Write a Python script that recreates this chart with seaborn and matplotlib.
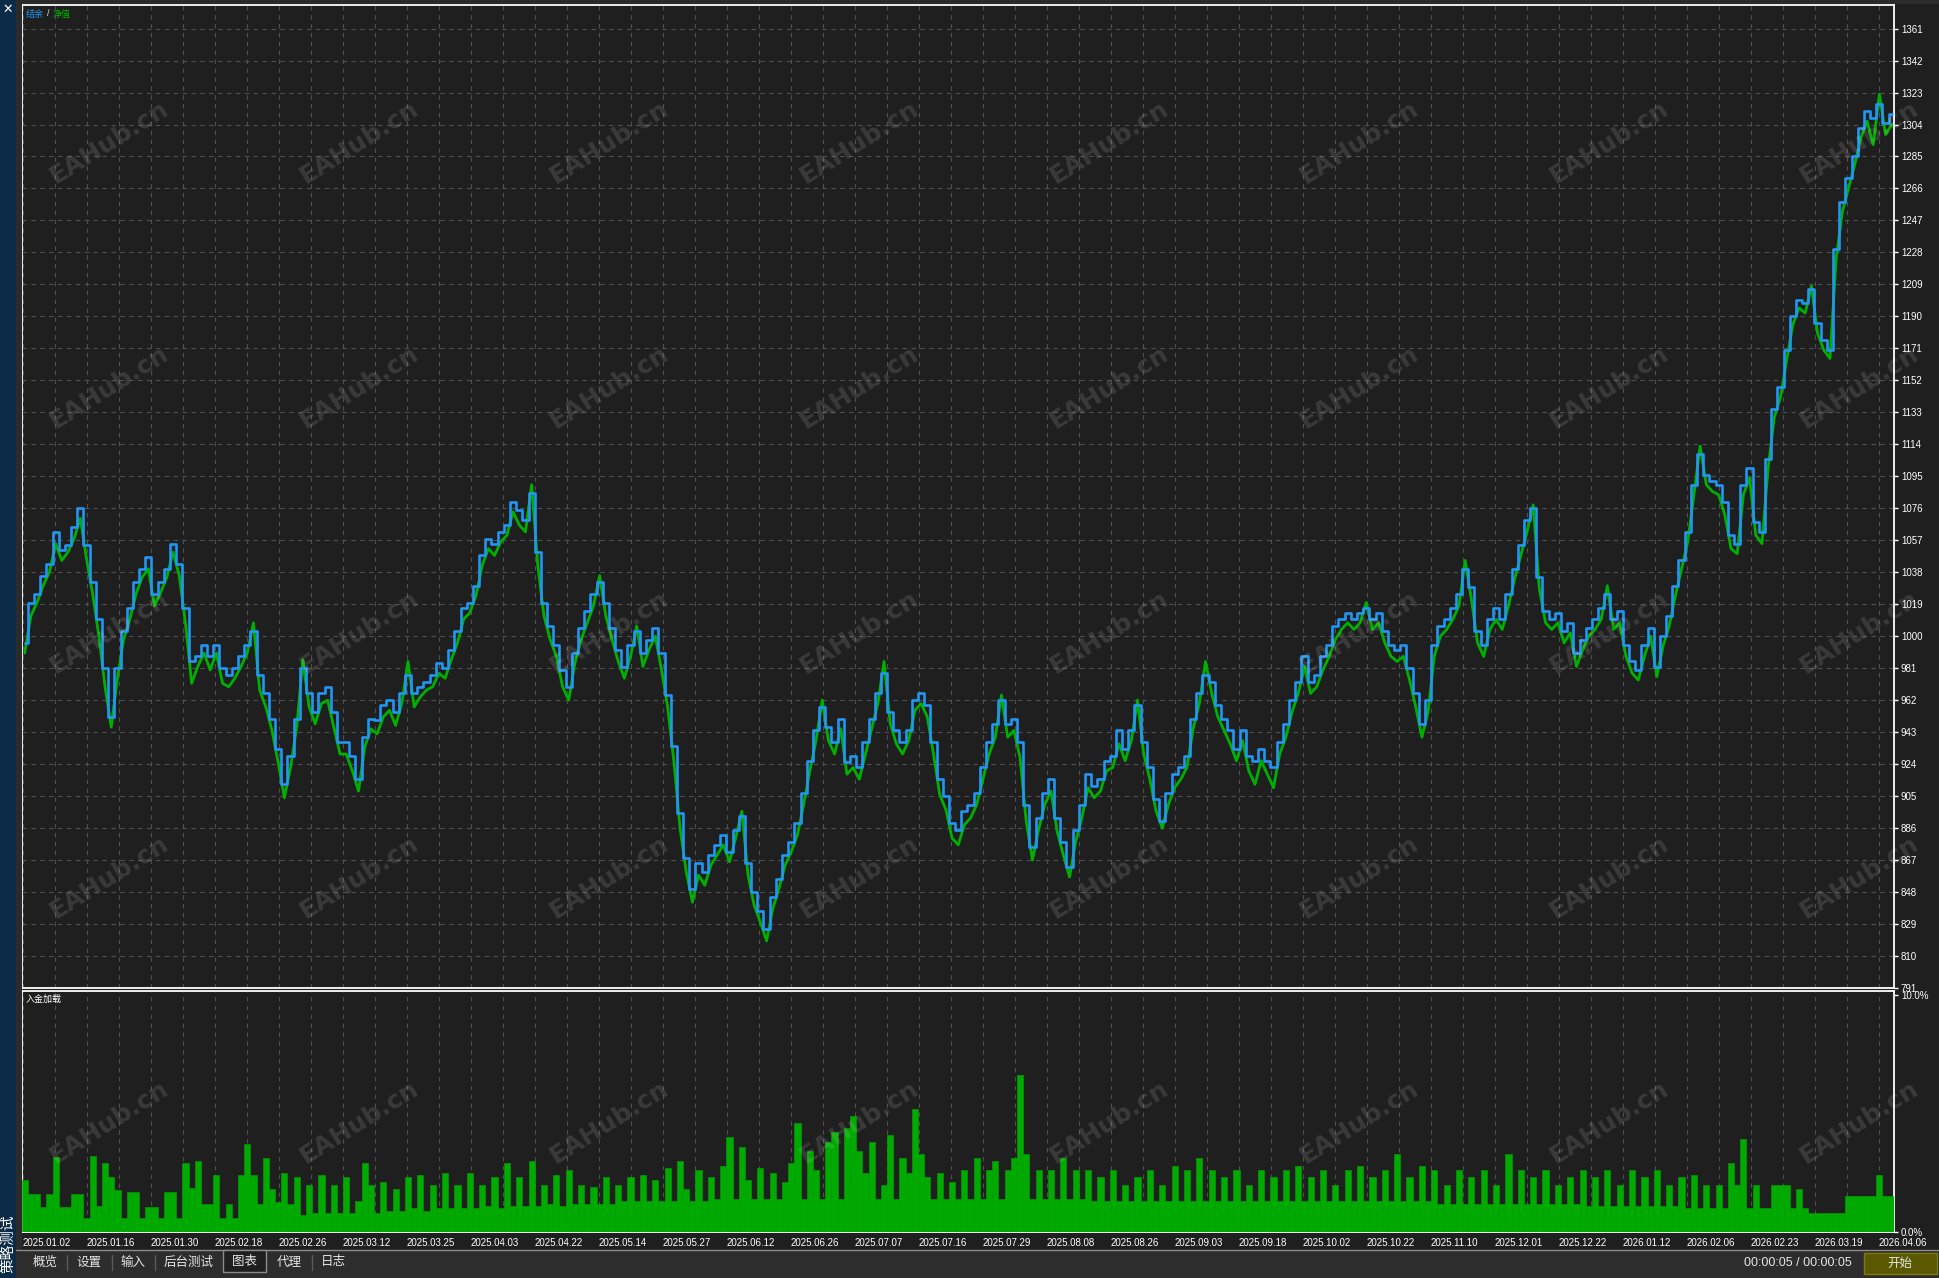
import numpy as np
import matplotlib
matplotlib.use("Agg")
import matplotlib.pyplot as plt
import seaborn as sns
from matplotlib.patches import Rectangle
from matplotlib.lines import Line2D

# ---------------- data ----------------
balance = [
    996, 1020, 1025, 1036, 1043, 1062, 1051, 1054, 1065, 1076,
    1054, 1032, 1010, 981, 952, 981, 1003, 1017, 1032, 1040,
    1047, 1025, 1032, 1040, 1055, 1043, 1017, 985, 988, 995,
    988, 995, 981, 977, 981, 988, 995, 1003, 977, 966,
    951, 933, 912, 929, 951, 981, 966, 955, 966, 970,
    955, 937, 937, 929, 915, 940, 951, 950, 959, 962,
    955, 966, 977, 966, 970, 973, 977, 984, 981, 992,
    1003, 1017, 1020, 1030, 1048, 1058, 1055, 1062, 1066, 1080,
    1075, 1069, 1085, 1050, 1020, 1006, 995, 980, 970, 990,
    1005, 1015, 1025, 1032, 1020, 1005, 992, 982, 995, 1003,
    990, 998, 1005, 990, 965, 935, 895, 868, 850, 865,
    860, 870, 876, 882, 872, 885, 893, 865, 848, 837,
    826, 845, 856, 870, 878, 889, 907, 926, 944, 958,
    946, 937, 951, 925, 929, 922, 937, 951, 966, 978,
    955, 944, 937, 944, 962, 966, 959, 937, 915, 905,
    889, 885, 896, 900, 907, 922, 937, 948, 962, 948,
    951, 937, 900, 875, 892, 907, 915, 892, 878, 863,
    885, 900, 918, 911, 915, 926, 929, 944, 933, 944,
    959, 937, 922, 903, 890, 907, 918, 922, 929, 951,
    966, 977, 973, 959, 951, 944, 933, 944, 929, 926,
    933, 926, 922, 937, 948, 962, 973, 988, 973, 977,
    988, 995, 1006, 1010, 1014, 1010, 1014, 1017, 1010, 1014,
    1003, 995, 992, 995, 981, 966, 948, 962, 995, 1006,
    1010, 1017, 1025, 1040, 1029, 1003, 995, 1010, 1017, 1010,
    1025, 1040, 1054, 1069, 1076, 1035, 1015, 1010, 1014, 1003,
    1008, 990, 998, 1005, 1010, 1017, 1025, 1010, 1015, 995,
    985, 980, 995, 1005, 982, 1000, 1012, 1030, 1045, 1062,
    1090, 1108, 1096, 1092, 1090, 1080, 1060, 1055, 1090, 1100,
    1068, 1062, 1105, 1135, 1148, 1170, 1190, 1200, 1198, 1206,
    1186, 1176, 1170, 1230, 1258, 1272, 1285, 1302, 1312, 1308,
    1316, 1305, 1310,
]

equity = [
    990, 1012, 1020, 1030, 1038, 1055, 1045, 1050, 1058, 1070,
    1046, 1025, 1000, 970, 946, 975, 998, 1010, 1025, 1035,
    1040, 1018, 1026, 1035, 1050, 1036, 1008, 972, 982, 990,
    980, 990, 972, 970, 975, 982, 990, 1008, 968, 958,
    944, 925, 904, 922, 946, 986, 958, 948, 960, 962,
    946, 930, 930, 920, 908, 934, 945, 942, 952, 956,
    947, 960, 985, 958, 964, 968, 970, 978, 975, 986,
    996, 1010, 1014, 1024, 1042, 1052, 1048, 1056, 1060, 1074,
    1066, 1062, 1090, 1042, 1012, 998, 988, 970, 962, 984,
    998, 1008, 1018, 1036, 1012, 998, 985, 975, 988, 1006,
    982, 992, 1000, 980, 958, 926, 886, 860, 842, 858,
    852, 864, 870, 876, 866, 880, 896, 858, 840, 830,
    819, 838, 850, 864, 872, 882, 900, 920, 938, 962,
    938, 930, 945, 918, 922, 915, 930, 945, 960, 985,
    948, 936, 930, 938, 956, 960, 952, 930, 906, 897,
    880, 876, 888, 892, 900, 915, 930, 940, 965, 940,
    944, 928, 890, 867, 885, 900, 908, 884, 870, 857,
    878, 892, 910, 904, 908, 920, 922, 936, 926, 938,
    962, 930, 915, 896, 886, 900, 910, 915, 922, 945,
    960, 985, 966, 952, 944, 936, 926, 938, 920, 912,
    926, 918, 910, 930, 940, 955, 966, 982, 966, 970,
    980, 988, 998, 1004, 1008, 1004, 1008, 1020, 1004, 1008,
    996, 988, 985, 988, 974, 958, 940, 955, 988, 1000,
    1004, 1010, 1018, 1045, 1022, 996, 988, 1004, 1010, 1004,
    1018, 1034, 1048, 1062, 1078, 1028, 1008, 1004, 1008, 996,
    1002, 982, 992, 1000, 1004, 1010, 1030, 1004, 1008, 988,
    978, 974, 988, 1000, 976, 994, 1006, 1024, 1040, 1056,
    1084, 1113, 1090, 1086, 1084, 1072, 1052, 1049, 1084, 1094,
    1060, 1055, 1100, 1130, 1142, 1164, 1185, 1195, 1192, 1208,
    1180, 1170, 1165, 1224, 1252, 1266, 1280, 1296, 1306, 1292,
    1322, 1298, 1304,
]

deposit_load = [
    2.2, 1.6, 1.6, 1.05, 1.6, 3.15, 1.05, 1.05, 1.6, 1.6,
    0.6, 3.2, 1.1, 2.9, 2.3, 1.75, 0.6, 1.7, 1.7, 0.6,
    1.05, 1.05, 0.6, 1.7, 1.7, 0.6, 2.9, 1.85, 3.0, 1.2,
    1.2, 2.4, 0.6, 1.2, 0.6, 2.4, 3.7, 2.4, 1.2, 3.1,
    1.8, 1.25, 2.5, 1.2, 2.3, 0.7, 2.0, 0.8, 2.4, 0.8,
    2.0, 0.8, 2.3, 0.8, 1.3, 2.9, 2.0, 0.8, 2.1, 0.9,
    1.8, 0.9, 2.3, 1.0, 2.4, 0.9, 2.0, 1.0, 2.5, 1.0,
    2.0, 1.0, 2.5, 1.0, 2.0, 1.1, 2.3, 1.0, 2.9, 1.1,
    2.3, 1.1, 3.0, 1.1, 2.0, 1.2, 2.4, 1.1, 2.6, 1.2,
    2.0, 1.2, 1.9, 1.2, 2.3, 1.2, 2.0, 1.3, 2.3, 1.3,
    2.4, 1.3, 2.2, 1.3, 2.7, 1.3, 3.0, 1.8, 1.3, 2.6,
    1.3, 2.3, 1.4, 2.8, 4.0, 1.4, 3.6, 2.2, 1.4, 2.7,
    1.4, 2.5, 1.4, 2.1, 2.9, 4.6, 1.4, 3.4, 2.6, 1.4,
    3.8, 4.2, 1.4, 4.4, 4.9, 3.4, 2.5, 3.8, 1.4, 2.0,
    4.1, 1.4, 3.1, 2.5, 5.2, 3.3, 2.3, 1.4, 2.5, 1.4,
    2.1, 1.4, 2.6, 1.4, 3.1, 1.4, 2.6, 3.0, 1.4, 2.6,
    3.1, 6.6, 3.3, 1.4, 2.6, 1.4, 2.6, 1.4, 3.1, 1.4,
    2.6, 1.4, 2.6, 1.3, 2.3, 1.3, 2.6, 1.3, 2.0, 1.3,
    2.3, 1.3, 2.6, 1.3, 2.0, 1.3, 2.8, 1.3, 2.6, 1.3,
    3.1, 1.3, 2.6, 1.3, 2.3, 1.3, 2.6, 1.3, 2.0, 1.3,
    2.6, 1.3, 2.3, 1.3, 2.6, 1.3, 2.8, 1.3, 2.3, 1.3,
    2.6, 1.3, 2.0, 1.3, 2.6, 1.3, 2.8, 1.3, 2.3, 1.3,
    2.6, 1.3, 3.3, 1.3, 2.3, 1.3, 2.8, 1.3, 2.6, 1.2,
    2.0, 1.2, 2.6, 1.2, 2.3, 1.2, 2.6, 1.2, 2.0, 1.2,
    3.3, 1.2, 2.6, 1.2, 2.3, 1.2, 2.6, 1.2, 2.0, 1.2,
    2.3, 1.2, 2.6, 1.1, 2.3, 1.1, 2.6, 1.1, 2.0, 1.1,
    2.6, 1.1, 2.3, 1.1, 2.6, 1.1, 2.0, 1.1, 2.3, 1.0,
    2.4, 1.0, 2.0, 1.0, 2.0, 1.0, 2.9, 2.0, 3.9, 1.0,
    2.0, 1.0, 1.0, 2.0, 2.0, 2.0, 1.0, 1.8, 1.0, 0.8,
    0.8, 0.8, 0.8, 0.8, 0.8, 1.5, 1.5, 1.5, 1.5, 1.5,
    2.4, 1.5, 1.5,
]

price_ticks = list(range(791, 1362, 19))
load_ticks = [0, 10]
load_tick_labels = ["0.0%", "10.0%"]
date_labels = [
    "2025.01.02", "2025.01.16", "2025.01.30", "2025.02.18", "2025.02.26",
    "2025.03.12", "2025.03.25", "2025.04.03", "2025.04.22", "2025.05.14",
    "2025.05.27", "2025.06.12", "2025.06.26", "2025.07.07", "2025.07.16",
    "2025.07.29", "2025.08.08", "2025.08.26", "2025.09.03", "2025.09.18",
    "2025.10.02", "2025.10.22", "2025.11.10", "2025.12.01", "2025.12.22",
    "2026.01.12", "2026.02.06", "2026.02.23", "2026.03.19", "2026.04.06",
]
legend_balance = "结余"
legend_equity = "净值"
load_title = "入金加载"
tab_names = ["概览", "设置", "输入", "后台测试", "图表", "代理", "日志"]
side_title = "策略测试"
timer_text = "00:00:05 / 00:00:05"
start_text = "开始"
watermark = "EAHub.cn"

# ---------------- style ----------------
BG = "#1f1f1f"
GRID = "#505050"
BLUE = "#2196f3"
GREEN = "#00b000"
BAR_GREEN = "#00aa00"

sns.set_theme(style="dark")
plt.rcParams["font.family"] = ["Liberation Sans", "Noto Sans CJK SC", "DejaVu Sans"]
plt.rcParams["axes.facecolor"] = BG
plt.rcParams["figure.facecolor"] = BG

W, H = 1939, 1278
fig = plt.figure(figsize=(W / 100, H / 100), dpi=100, facecolor=BG)


def rect(x0, y0, x1, y1):
    return [x0 / W, 1 - y1 / H, (x1 - x0) / W, (y1 - y0) / H]


def ft(px, py, s, **kw):
    return fig.text(px / W, 1 - py / H, s, **kw)


def add_rect(x0, y0, x1, y1, **kw):
    r = Rectangle((x0 / W, 1 - y1 / H), (x1 - x0) / W, (y1 - y0) / H,
                  transform=fig.transFigure, **kw)
    fig.add_artist(r)
    return r


def add_line(x0, y0, x1, y1, **kw):
    ln = Line2D([x0 / W, x1 / W], [1 - y0 / H, 1 - y1 / H],
                transform=fig.transFigure, **kw)
    fig.add_artist(ln)
    return ln


# chrome backgrounds
add_rect(0, 0, 16, H, facecolor="#0c2b47", edgecolor="none", zorder=0.5)
add_rect(16, 0, 22, H, facecolor="#2b2b2b", edgecolor="none", zorder=0.5)
add_rect(16, 0, W, 4, facecolor="#2b2b2b", edgecolor="none", zorder=0.5)
add_rect(16, 1250, W, H, facecolor="#2d2d2d", edgecolor="none", zorder=0.5)

XMIN, XMAX = -0.03, 58.47
n = len(balance)
x = np.linspace(0.054, 58.4, n)
slot = x[1] - x[0]

# ---------------- upper chart ----------------
ax = fig.add_axes(rect(22, 5, 1894, 988))
ax.set_facecolor(BG)
sns.lineplot(x=x, y=equity, ax=ax, color=GREEN, lw=2.0,
             legend=False, zorder=3)
sns.lineplot(x=x, y=balance, ax=ax, color=BLUE, lw=1.9,
             drawstyle="steps-mid", legend=False, zorder=4)
ax.set_xlim(XMIN, XMAX)
ax.set_ylim(791, 1375)
ax.set_xlabel("")
ax.set_ylabel("")
ax.set_yticks(price_ticks)
ax.set_yticklabels([str(v) for v in price_ticks])
ax.yaxis.tick_right()
ax.set_xticks(np.arange(0, 59))
ax.tick_params(axis="x", length=0, labelbottom=False)
ax.tick_params(axis="y", length=3, width=1, color="white", labelcolor="white",
               labelsize=7, pad=2, direction="out")
ax.grid(True, color=GRID, linestyle=(0, (4, 4)), linewidth=0.8)
for s in ax.spines.values():
    s.set_color("white")
    s.set_linewidth(1.3)

# ---------------- lower chart ----------------
ax2 = fig.add_axes(rect(22, 991, 1894, 1232))
ax2.set_facecolor(BG)
ax2.bar(x, deposit_load, width=slot, color=BAR_GREEN, edgecolor=BAR_GREEN,
        linewidth=0.4, align="center", zorder=3)
ax2.set_xlim(XMIN, XMAX)
ax2.set_ylim(0, 10.15)
ax2.set_yticks(load_ticks)
ax2.set_yticklabels(load_tick_labels)
ax2.yaxis.tick_right()
ax2.set_xticks(np.arange(0, 59, 2))
ax2.set_xticklabels(date_labels)
ax2.set_xticks(np.arange(0, 59), minor=True)
for lab in ax2.get_xticklabels():
    lab.set_ha("left")
ax2.tick_params(axis="x", which="major", length=3, width=1, color="white",
                labelcolor="white", labelsize=7, pad=1, direction="out")
ax2.tick_params(axis="x", which="minor", length=0)
ax2.tick_params(axis="y", length=3, width=1, color="white", labelcolor="white",
                labelsize=7, pad=2, direction="out")
ax2.grid(True, axis="x", which="both", color=GRID, linestyle=(0, (4, 4)),
         linewidth=0.8)
ax2.grid(False, axis="y")
for s in ax2.spines.values():
    s.set_color("white")
    s.set_linewidth(1.3)

# ---------------- texts ----------------
ft(26, 14, legend_balance, color=BLUE, fontsize=6.5, va="center", ha="left")
ft(47, 14, "/", color="#dddddd", fontsize=6.5, va="center", ha="left")
ft(53, 14, legend_equity, color=GREEN, fontsize=6.5, va="center", ha="left")
ft(26, 999, load_title, color="white", fontsize=6.5, va="center", ha="left")

ft(8, 9, "✕", color="white", fontsize=9, fontweight="bold",
   ha="center", va="center", family=["DejaVu Sans"])
ft(8, 1244, side_title, color="white", fontsize=10.5, rotation=90,
   ha="center", va="center", family=["Noto Sans CJK SC", "DejaVu Sans"])

# tab bar
add_line(16, 1250, W, 1250, color="#8c8c8c", lw=1, zorder=2)
add_rect(223, 1250, 266, 1272, facecolor="#1f1f1f", edgecolor="#8c8c8c",
         lw=1, zorder=2)
for sx in [67, 112, 155, 312]:
    add_line(sx, 1255, sx, 1270, color="#5a5a5a", lw=1, zorder=2)
tab_x = [45, 89, 133, 189, 245, 289, 333]
for name, tx in zip(tab_names, tab_x):
    ft(tx, 1262, name, color="#e6e6e6", fontsize=9, ha="center", va="center",
       family=["Noto Sans CJK SC", "DejaVu Sans"])

ft(1798, 1263, timer_text, color="#e6e6e6", fontsize=9, ha="center", va="center")
add_rect(1864, 1253, 1937, 1274, facecolor="#5b5900", edgecolor="#7d7b12",
         lw=1, zorder=2)
ft(1900, 1263, start_text, color="#e6e6e6", fontsize=9, ha="center", va="center",
   family=["Noto Sans CJK SC", "DejaVu Sans"], zorder=3)

# watermarks
for j in range(5):
    for i in range(8):
        ft(109 + 250 * i, 142 + 245 * j, watermark, color="white", alpha=0.12,
           fontsize=18, fontweight="bold", rotation=32, rotation_mode="anchor",
           ha="center", va="center", family=["DejaVu Sans"], zorder=10)

fig.savefig("out.png", dpi=100, facecolor=BG)
